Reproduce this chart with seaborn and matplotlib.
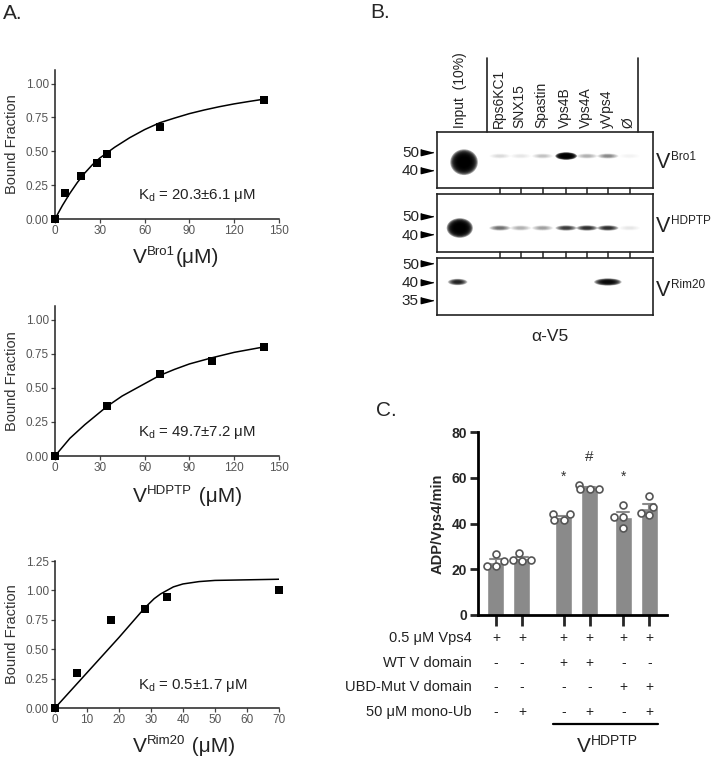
import numpy as np
import matplotlib
matplotlib.use("Agg")
import matplotlib.pyplot as plt
import matplotlib.transforms as mtrans
from matplotlib.patches import Ellipse
import pandas as pd
import seaborn as sns

sns.set_theme(style="ticks")
plt.rcParams["font.family"] = ["Liberation Sans", "DejaVu Sans"]
plt.rcParams["mathtext.fontset"] = "custom"
plt.rcParams["mathtext.rm"] = "Liberation Sans"
plt.rcParams["mathtext.it"] = "Liberation Sans:italic"
plt.rcParams["mathtext.bf"] = "Liberation Sans:bold"
plt.rcParams["mathtext.default"] = "regular"

# ---- panel A data: binding curves ----
bro1_x = [0, 7, 17.5, 28, 35, 70, 140]
bro1_y = [0, 0.19, 0.32, 0.41, 0.48, 0.68, 0.88]
bro1_fit_x = [0, 5, 10, 15, 20, 25, 30, 35, 40, 50, 60, 70, 80, 90, 100, 110, 120, 130, 140]
bro1_fit_y = [0, 0.10, 0.19, 0.27, 0.34, 0.40, 0.45, 0.49, 0.53, 0.60, 0.66, 0.71, 0.745, 0.778, 0.805, 0.829, 0.85, 0.868, 0.885]

hdptp_x = [0, 35, 70, 105, 140]
hdptp_y = [0, 0.37, 0.60, 0.70, 0.80]
hdptp_fit_x = [0, 10, 20, 30, 35, 45, 60, 70, 80, 90, 105, 120, 140]
hdptp_fit_y = [0, 0.13, 0.23, 0.32, 0.365, 0.44, 0.53, 0.59, 0.635, 0.675, 0.72, 0.76, 0.80]

rim20_x = [0, 7, 17.5, 28, 35, 70]
rim20_y = [0, 0.30, 0.75, 0.846, 0.945, 1.0]
rim20_fit_x = [0, 10, 20, 28, 31, 33, 35, 37, 40, 45, 50, 60, 70]
rim20_fit_y = [0, 0.30, 0.60, 0.85, 0.93, 0.97, 1.0, 1.03, 1.055, 1.075, 1.085, 1.09, 1.095]

kd_labels = ["20.3±6.1", "49.7±7.2", "0.5±1.7"]
a_xlabels = [("V", "Bro1", "(μM)"), ("V", "HDPTP", " (μM)"), ("V", "Rim20", " (μM)")]

# ---- panel B data: pull-down blot ----
lane_names = ["Input  (10%)", "Rps6KC1", "SNX15", "Spastin", "Vps4B", "Vps4A", "yVps4", "Ø"]
blot_names = ["Bro1", "HDPTP", "Rim20"]
marker_kda = [["50", "40"], ["50", "40"], ["50", "40", "35"]]
marker_rf = [[0.357, 0.679], [0.379, 0.69], [0.088, 0.421, 0.737]]
band_rf = [0.43, 0.586, 0.421]
input_rf = [0.54, 0.586, 0.421]
input_intensity = [1.0, 1.0, 0.85]
lane_intensity = [
    [0.15, 0.07, 0.22, 1.0, 0.28, 0.45, 0.04],
    [0.55, 0.30, 0.35, 0.75, 0.80, 0.80, 0.10],
    [0.0, 0.0, 0.0, 0.0, 0.0, 0.95, 0.0],
]

# ---- panel C data: ATPase ----
c_pos = [0, 1, 2.6, 3.6, 4.9, 5.9]
c_reps = [
    [21.5, 21.5, 23.5, 26.5],
    [23.5, 27, 24, 24],
    [44, 44, 41.5, 41.5],
    [57, 55, 55, 55],
    [48, 43, 43, 38],
    [52, 47, 44.5, 43.5],
]
c_marks = ["", "", "*", "#", "*", ""]
c_rows = ["0.5 μM Vps4", "WT V domain", "UBD-Mut V domain", "50 μM mono-Ub"]
c_table = [
    ["+", "+", "+", "+", "+", "+"],
    ["-", "-", "+", "+", "-", "-"],
    ["-", "-", "-", "-", "+", "+"],
    ["-", "+", "-", "+", "-", "+"],
]

fig = plt.figure(figsize=(7.13, 7.57), dpi=100)
H = 757
pix = mtrans.IdentityTransform()


def sup_text(x, y_base, base, sup, tail="", size=15, sup_size=9, rise=8.5):
    # big letter with a small raised superscript, left edge at x (image pixels)
    r = fig.canvas.get_renderer()
    t = fig.text(x, H - y_base, base, transform=pix, fontsize=size, va="baseline", ha="left", color="#222222")
    w = t.get_window_extent(r).width
    t2 = fig.text(x + w + 0.5, H - y_base + rise, sup, transform=pix, fontsize=sup_size,
                  va="baseline", ha="left", color="#222222")
    w2 = t2.get_window_extent(r).width
    if tail:
        fig.text(x + w + w2 + 1, H - y_base, tail, transform=pix, fontsize=size,
                 va="baseline", ha="left", color="#222222")


# ---------------- panel A ----------------
a_rects = [[0.0771, 0.7107, 0.3142, 0.1968],
           [0.0771, 0.3976, 0.3142, 0.1982],
           [0.0771, 0.0647, 0.3142, 0.1942]]
a_sets = [(bro1_x, bro1_y, bro1_fit_x, bro1_fit_y, 150, 1.1, [0, 0.25, 0.5, 0.75, 1.0], [0, 30, 60, 90, 120, 150]),
          (hdptp_x, hdptp_y, hdptp_fit_x, hdptp_fit_y, 150, 1.1, [0, 0.25, 0.5, 0.75, 1.0], [0, 30, 60, 90, 120, 150]),
          (rim20_x, rim20_y, rim20_fit_x, rim20_fit_y, 70, 1.25, [0, 0.25, 0.5, 0.75, 1.0, 1.25], list(range(0, 80, 10)))]
a_label_base = [263, 502, 752]

for i, (rect, st) in enumerate(zip(a_rects, a_sets)):
    px, py, fx, fy, xmax, ymax, yt, xt = st
    ax = fig.add_axes(rect)
    sns.lineplot(x=fx, y=fy, color="black", linewidth=1.1, sort=False, ax=ax)
    sns.scatterplot(x=px, y=py, marker="s", color="black", s=30, linewidth=0, clip_on=False, zorder=5, ax=ax)
    ax.set_xlim(0, xmax)
    ax.set_ylim(0, ymax)
    ax.set_yticks(yt)
    ax.set_yticklabels([f"{v:.2f}" for v in yt])
    ax.set_xticks(xt)
    ax.tick_params(labelsize=8.5, labelcolor="#555555", color="#444444", length=3, width=0.9, pad=1.5)
    for s in ["left", "bottom"]:
        ax.spines[s].set_linewidth(1.1)
        ax.spines[s].set_color("#222222")
    sns.despine(ax=ax)
    ax.set_ylabel("Bound Fraction", fontsize=10.5, color="#333333", labelpad=5)
    ax.set_xlabel("")
    ax.text(0.37, 0.155, "K$_d$ = " + kd_labels[i] + " μM", transform=ax.transAxes,
            fontsize=10.8, va="center", ha="left", color="#222222")
    b, s_, t_ = a_xlabels[i]
    sup_text(133, a_label_base[i], b, s_, t_, size=15, sup_size=9.5, rise=8)

fig.text(0.004, 0.982, "A.", fontsize=15, va="center", ha="left")
fig.text(0.519, 0.983, "B.", fontsize=15, va="center", ha="left")
fig.text(0.527, 0.458, "C.", fontsize=15, va="center", ha="left")

# ---------------- panel B ----------------
lane_x = [0, 1.72, 2.68, 3.7, 4.8, 5.77, 6.74, 7.75]
input_x = [0.05, -0.15, -0.25]
input_w = [0.95, 0.9, 0.68]
input_h = [0.34, 0.25, 0.085]
band_h = [0.07, 0.07, 0.095]
b_rects = [[0.6129, 0.7517, 0.3029, 0.0740],
           [0.6129, 0.6671, 0.3029, 0.0766],
           [0.6129, 0.5839, 0.3029, 0.0753]]
b_label_base = [168, 232, 296]


def draw_band(ax, x, y, w, h, level):
    if level <= 0:
        return
    n = 12
    a = 1 - (1 - min(level, 0.995)) ** (1.0 / n)
    for f in np.linspace(1.35, 0.45, n):
        ax.add_patch(Ellipse((x, y), w * f, h * f, color="black", alpha=a, linewidth=0))


gel_axes = []
for b, rect in enumerate(b_rects):
    ax = fig.add_axes(rect)
    gel_axes.append(ax)
    ax.set_xlim(-1.21, 8.84)
    ax.set_ylim(1, 0)
    ax.set_facecolor("white")
    for s in ax.spines.values():
        s.set_visible(True)
        s.set_linewidth(1.2)
        s.set_color("#222222")
    ax.set_xticks([])
    ax.set_yticks(marker_rf[b])
    ax.set_yticklabels(marker_kda[b])
    ax.tick_params(axis="y", length=0, pad=13, labelsize=11, labelcolor="#222222")
    trans = mtrans.blended_transform_factory(ax.transAxes, ax.transData)
    ax.plot([-0.046] * len(marker_rf[b]), marker_rf[b], linestyle="none",
            marker=[(-1, 0.5), (-1, -0.5), (1, 0)], markersize=9, color="black",
            transform=trans, clip_on=False)

    draw_band(ax, input_x[b], input_rf[b], input_w[b], input_h[b], input_intensity[b])
    for k, lvl in enumerate(lane_intensity[b]):
        w = 0.95 if (b == 2 and k == 5) else 0.75
        h = 0.1 if (b == 0 and k == 3) else band_h[b]
        draw_band(ax, lane_x[k + 1], band_rf[b], w, h, lvl)

    sup_text(656, b_label_base[b], "V", blot_names[b], size=15.5, sup_size=8.5, rise=8)

    if b < 2:
        for lx in lane_x[1:]:
            ax.plot([lx, lx], [1.0, 1.105], color="#222222", linewidth=1.1, clip_on=False)

ax = gel_axes[0]
for k, name in enumerate(lane_names):
    ax.text(lane_x[k] - (0.15 if k == 0 else 0.05), -0.07, name, rotation=90,
            ha="center", va="bottom", fontsize=10, color="#222222")
for sx in [1.12, 8.14]:
    ax.plot([sx, sx], [0, -1.32], color="#222222", linewidth=1.2, clip_on=False)
gel_axes[2].text(4.05, 1.37, "α-V5", ha="center", va="center", fontsize=12.5, color="#222222")

# ---------------- panel C ----------------
axc = fig.add_axes([0.6704, 0.1876, 0.2651, 0.2417])
df = pd.DataFrame({"pos": np.repeat(c_pos, 4), "rate": np.concatenate(c_reps)})
sns.barplot(data=df, x="pos", y="rate", native_scale=True, width=0.65, color="#8a8a8a",
            saturation=1, errorbar="se", capsize=0.45,
            err_kws={"color": "#8a8a8a", "linewidth": 1.5}, ax=axc)
sns.swarmplot(data=df, x="pos", y="rate", native_scale=True, color="white",
              edgecolor="#555555", linewidth=1.2, size=5, zorder=4, ax=axc)
axc.set_xlim(-0.69, 6.58)
axc.set_ylim(0, 80)
axc.set_yticks([0, 20, 40, 60, 80])
axc.set_xticks(c_pos)
axc.set_xticklabels([])
axc.tick_params(axis="y", length=6, width=2, labelsize=10, pad=2)
axc.tick_params(axis="x", length=8, width=2)
for lab in axc.get_yticklabels():
    lab.set_fontweight("bold")
for s in ["left", "bottom"]:
    axc.spines[s].set_linewidth(2)
    axc.spines[s].set_color("black")
sns.despine(ax=axc)
axc.set_xlabel("")
axc.set_ylabel("ADP/Vps4/min", fontsize=10.5, fontweight="bold", labelpad=5)

for p, mark in zip(c_pos, c_marks):
    if mark:
        yv = 69 if mark == "#" else 60.5
        axc.text(p, yv, mark, ha="center", va="center", fontsize=11 if mark == "#" else 10, color="#333333")

ctrans = mtrans.blended_transform_factory(axc.transData, axc.transAxes)
row_y = [-0.126, -0.262, -0.393, -0.53]
for r, (name, ry) in enumerate(zip(c_rows, row_y)):
    axc.text(-0.032, ry, name, transform=axc.transAxes, ha="right", va="center",
             fontsize=10.5, color="#222222")
    for p, sym in zip(c_pos, c_table[r]):
        axc.text(p, ry, sym, transform=ctrans, ha="center", va="center",
                 fontsize=10, color="#222222")
axc.plot([2.2, 6.24], [-0.596, -0.596], color="black", linewidth=1.6,
         transform=ctrans, clip_on=False)
sup_text(577, 752, "V", "HDPTP", size=15, sup_size=10, rise=7)

fig.savefig("out.png", dpi=100, facecolor="white")
